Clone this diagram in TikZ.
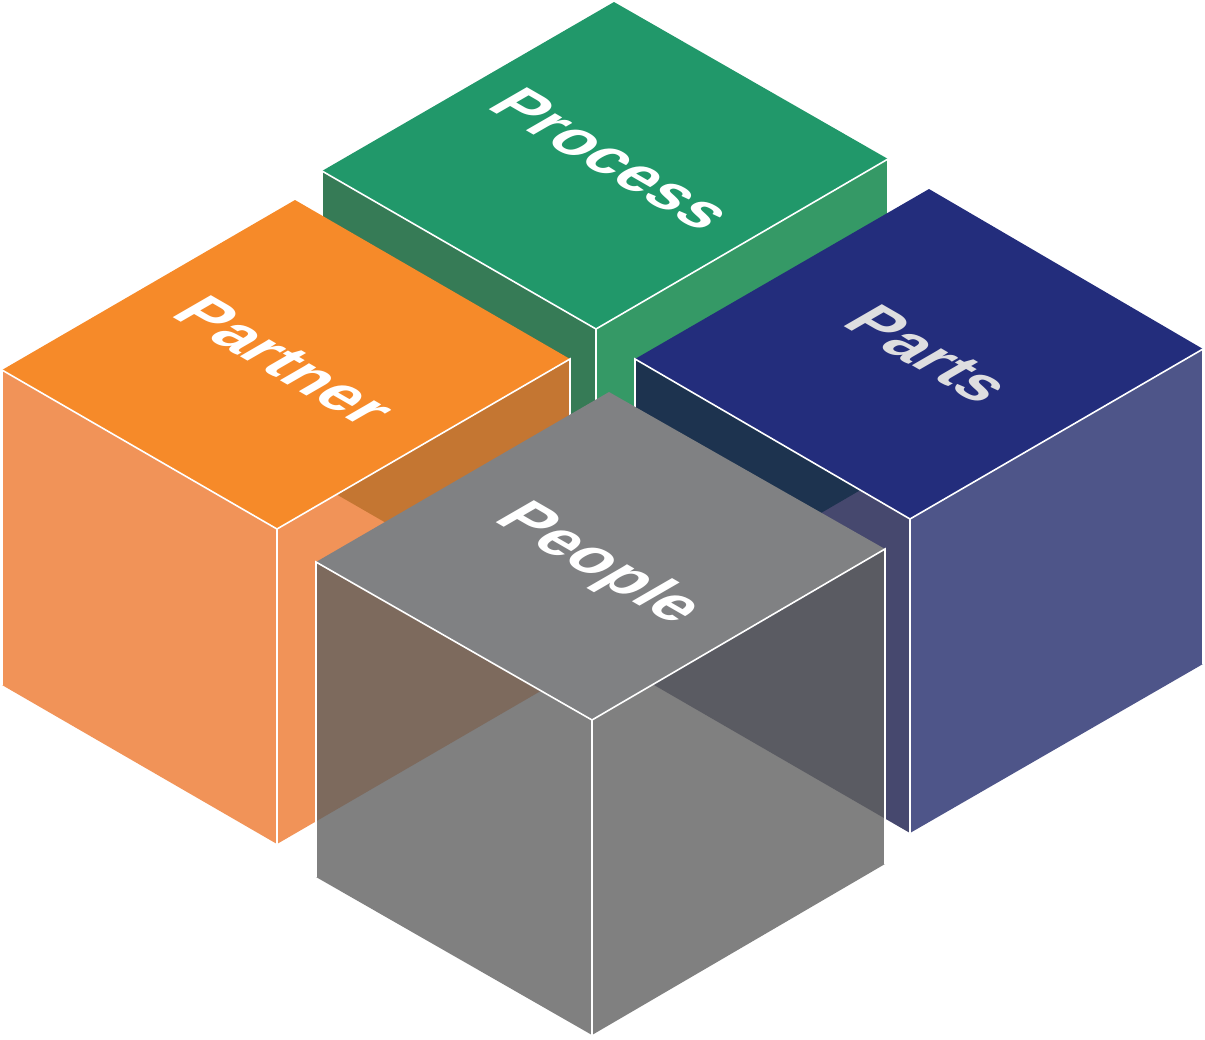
\documentclass[tikz,border=0pt]{standalone}
\usepackage{fontspec}
\setmainfont{Liberation Sans}
\definecolor{procTop}{RGB}{33,152,106}
\definecolor{procLeft}{RGB}{54,123,86}
\definecolor{procRight}{RGB}{53,153,102}
\definecolor{partTop}{RGB}{246,138,41}
\definecolor{partSide}{RGB}{237,117,41}
\definecolor{partsTop}{RGB}{35,45,124}
\definecolor{partsLeft}{RGB}{24,26,74}
\definecolor{partsRight}{RGB}{34,42,107}
\definecolor{partsText}{RGB}{222,222,224}
\definecolor{peopleTop}{RGB}{128,129,131}
\definecolor{peopleSide}{RGB}{96,96,96}
\begin{document}
\begin{tikzpicture}[x=0.5pt,y=-0.5pt,
    rim/.style={white,line width=0.8pt},
    tag/.style={text=white,font=\bfseries\fontsize{32}{32}\selectfont,inner sep=0pt,
      cm={0.866,-0.5,0.866,0.5,(0,0)},transform shape}]
   \useasboundingbox (0,0) rectangle (1205,1039);
   % process
   \fill[procLeft] (322,171) -- (596,329) -- (596,644) -- (322,486) -- cycle;
   \fill[procRight] (596,329) -- (888,159) -- (888,474) -- (596,644) -- cycle;
   \fill[procTop] (614,2) -- (322,171) -- (596,329) -- (888,159) -- cycle;
   \draw[rim] (322,486) -- (322,171) -- (596,329) -- (888,159) -- (888,474);
   \draw[rim] (596,329) -- (596,644);
   % partner
   \fill[partSide,fill opacity=0.78] (2,370) -- (277,529) -- (277,844) -- (2,685) -- cycle;
   \fill[partSide,fill opacity=0.78] (277,529) -- (570,359) -- (570,674) -- (277,844) -- cycle;
   \fill[partTop] (295,200) -- (2,370) -- (277,529) -- (570,359) -- cycle;
   \draw[rim] (2,685) -- (2,370) -- (277,529) -- (570,359) -- (570,674);
   \draw[rim] (277,529) -- (277,844);
   % parts
   \fill[partsLeft,fill opacity=0.8] (635,359) -- (910,519) -- (910,833) -- (635,674) -- cycle;
   \fill[partsRight,fill opacity=0.8] (910,519) -- (1203,349) -- (1203,664) -- (910,833) -- cycle;
   \fill[partsTop] (929,189) -- (635,359) -- (910,519) -- (1203,349) -- cycle;
   \draw[rim] (635,674) -- (635,359) -- (910,519) -- (1203,349) -- (1203,664);
   \draw[rim] (910,519) -- (910,833);
   % people
   \fill[peopleSide,fill opacity=0.8] (316,562) -- (592,720) -- (592,1035) -- (316,877) -- cycle;
   \fill[peopleSide,fill opacity=0.8] (592,720) -- (885,549) -- (885,864) -- (592,1035) -- cycle;
   \fill[peopleTop] (609,392) -- (316,562) -- (592,720) -- (885,549) -- cycle;
   \draw[rim] (316,877) -- (316,562) -- (592,720) -- (885,549) -- (885,864);
   \draw[rim] (592,720) -- (592,1035);
   % labels
   \node[tag] (process) at (612,159) {Process};
   \node[tag] (partner) at (285,361) {Partner};
   \node[tag,text=partsText] (parts) at (929,354) {Parts};
   \node[tag] (people) at (598,565) {People};
\end{tikzpicture}
\end{document}
